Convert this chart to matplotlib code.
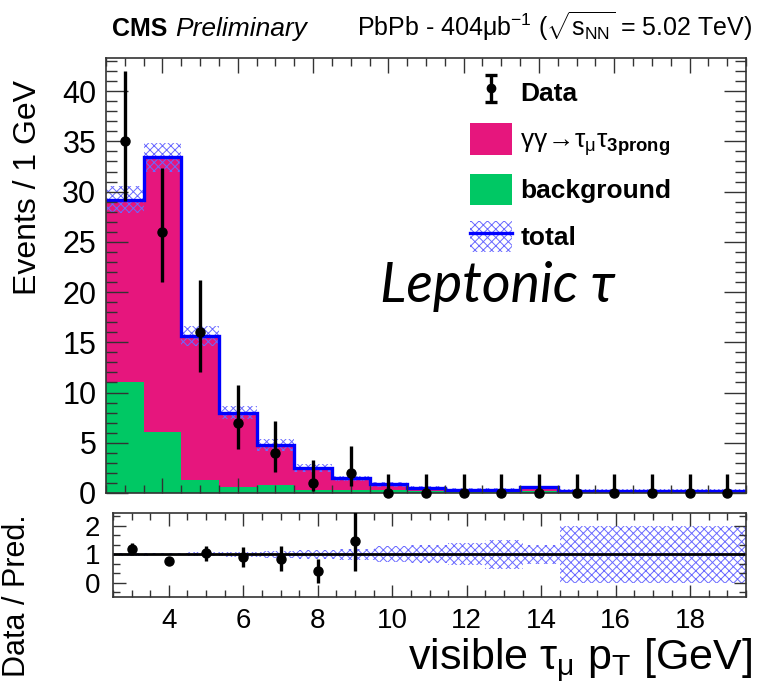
import matplotlib
matplotlib.use('Agg')
import matplotlib.pyplot as plt
import numpy as np
from matplotlib.patches import Patch
from matplotlib.lines import Line2D
from matplotlib.ticker import MultipleLocator

plt.rcParams['font.family'] = ['Liberation Sans', 'DejaVu Sans']
plt.rcParams['mathtext.fontset'] = 'custom'
plt.rcParams['mathtext.rm'] = 'Liberation Sans'
plt.rcParams['mathtext.it'] = 'Liberation Sans:italic'
plt.rcParams['mathtext.bf'] = 'Liberation Sans:bold'
plt.rcParams['hatch.linewidth'] = 0.7

# binning: 1 GeV bins from 2.5 to 19.5
bin_edges = np.arange(2.5, 20.0, 1.0)
bin_centres = [3, 4, 5, 6, 7, 8, 9, 10, 11, 12, 13, 14, 15, 16, 17, 18, 19]

background = [11.0, 6.1, 1.3, 0.6, 0.8, 0.3, 0.3, 0.25, 0.22, 0.15, 0.15, 0.15, 0.1, 0.1, 0.1, 0.1, 0.1]
signal = [18.2, 27.3, 14.3, 7.4, 4.0, 2.2, 1.15, 0.62, 0.31, 0.18, 0.18, 0.4, 0.1, 0.1, 0.1, 0.1, 0.1]
rel_unc = [0.045, 0.042, 0.065, 0.085, 0.12, 0.16, 0.19, 0.28, 0.32, 0.39, 0.5, 0.33, 1.0, 1.0, 1.0, 1.0, 1.0]

data = [35, 26, 16, 7, 4, 1, 2, 0, 0, 0, 0, 0, 0, 0, 0, 0, 0]
data_lo = [29.1, 21.0, 12.0, 4.4, 2.1, 0.17, 0.7, 0, 0, 0, 0, 0, 0, 0, 0, 0, 0]
data_hi = [42.0, 32.4, 21.2, 10.8, 7.2, 3.3, 4.7, 1.85, 1.85, 1.85, 1.85, 1.85, 1.85, 1.85, 1.85, 1.85, 1.85]

ratio_x = [3, 4, 5, 6, 7, 8, 9]
ratio = [1.19, 0.77, 1.03, 0.89, 0.85, 0.41, 1.45]
ratio_err = [0.21, 0.15, 0.27, 0.35, 0.43, 0.42, 1.02]

c_sig = '#E6167D'
c_bkg = '#00C864'
c_tot = '#0000FF'
c_hatch = '#6A6AFF'

bkg = np.array(background)
sig = np.array(signal)
total = bkg + sig
unc = np.array(rel_unc) * total
d = np.array(data, dtype=float)

fig = plt.figure(figsize=(7.58, 6.86), dpi=100)
ax = fig.add_axes([106/758, 1-493/686, 640/758, 435/686])
ax2 = fig.add_axes([113/758, 1-597/686, 633/758, 84/686])

# main panel
ax.stairs(bkg, bin_edges, fill=True, color=c_bkg, lw=0)
ax.stairs(total, bin_edges, baseline=bkg, fill=True, color=c_sig, lw=0)
ax.stairs(total + unc, bin_edges, baseline=total - unc, fill=True, facecolor='none',
          edgecolor=c_hatch, hatch='xxxx', lw=0)
ax.stairs(total, bin_edges, baseline=None, color=c_tot, lw=2.4)
ax.errorbar(bin_centres, d, yerr=[d - np.array(data_lo), np.array(data_hi) - d],
            fmt='o', color='k', ms=6.5, elinewidth=2.4, capsize=0, clip_on=False, zorder=5)

ax.set_xlim(2.5, 19.5)
ax.set_ylim(0, 43.3)
ax.xaxis.set_major_locator(MultipleLocator(2))
ax.xaxis.set_minor_locator(MultipleLocator(0.5))
ax.yaxis.set_major_locator(MultipleLocator(5))
ax.yaxis.set_minor_locator(MultipleLocator(1))
ax.tick_params(which='both', direction='in', top=True, right=True, labelbottom=False,
               labelsize=22, pad=7, width=1.0, color='#333333')
ax.tick_params(axis='y', which='major', length=16)
ax.tick_params(axis='y', which='minor', length=8)
ax.tick_params(axis='x', which='major', length=11)
ax.tick_params(axis='x', which='minor', length=6)
for s in ax.spines.values():
    s.set_linewidth(1.2)
    s.set_color('#333333')
ax.set_ylabel('Events / 1 GeV', fontsize=23)
ax.yaxis.set_label_coords(-0.098, 0.703)

# legend
leg_data = ax.errorbar([np.nan], [np.nan], yerr=[1], fmt='o', color='k', ms=6,
                       elinewidth=2.4, capsize=4, capthick=2.4)
h_sig = Patch(facecolor=c_sig, edgecolor='none')
h_bkg = Patch(facecolor=c_bkg, edgecolor='none')
h_tot = (Patch(facecolor='none', edgecolor=c_hatch, hatch='xxxx', lw=0),
         Line2D([], [], color=c_tot, lw=2.4))
leg = ax.legend([leg_data, h_sig, h_bkg, h_tot],
                ['Data', r'$\mathregular{\gamma\gamma\!\rightarrow\!\tau_{\mu}\tau_{\mathbf{3prong}}}$',
                 'background', 'total'],
                loc='upper left', bbox_to_anchor=(0.569, 0.958), frameon=False,
                prop={'size': 19, 'weight': 'bold'}, handlelength=1.6, handleheight=1.45,
                labelspacing=0.6, handletextpad=0.3, borderaxespad=0, borderpad=0)
leg.get_texts()[1].set_fontweight('normal')
leg.get_texts()[1].set_fontsize(19)

ax.text(0.611, 0.475, 'Leptonic \u03c4', transform=ax.transAxes, fontsize=40,
        style='italic', family=['Lato', 'DejaVu Sans'], ha='center', va='center')

# header
fig.text(112/758, 1-36/686, 'CMS', fontsize=18, fontweight='bold', va='baseline')
fig.text(175/758, 1-36/686, 'Preliminary', fontsize=19, style='italic', va='baseline')
fig.text(752/758, 1-36/686,
         r'PbPb - 404$\mathregular{\mu b^{-1}}$ ($\mathregular{\sqrt{s_{NN}}}$ = 5.02 TeV)',
         fontsize=18, ha='right', va='baseline')

# ratio panel
ax2.stairs(1 + np.array(rel_unc), bin_edges, baseline=1 - np.array(rel_unc), fill=True,
           facecolor='none', edgecolor=c_hatch, hatch='xxxx', lw=0)
ax2.axhline(1.0, color='k', lw=2.0)
ax2.errorbar(ratio_x, ratio, yerr=ratio_err, fmt='o', color='k', ms=6.5, elinewidth=2.4,
             capsize=0, zorder=5)
ax2.set_xlim(2.5, 19.5)
ax2.set_ylim(-0.5, 2.45)
ax2.xaxis.set_major_locator(MultipleLocator(2))
ax2.xaxis.set_minor_locator(MultipleLocator(0.5))
ax2.yaxis.set_major_locator(MultipleLocator(1))
ax2.yaxis.set_minor_locator(MultipleLocator(1/3))
ax2.tick_params(which='both', direction='in', top=True, right=True, labelsize=20,
                width=1.0, color='#333333')
ax2.tick_params(axis='x', pad=8)
ax2.tick_params(axis='y', pad=9)
ax2.tick_params(which='major', length=9)
ax2.tick_params(which='minor', length=5)
for s in ax2.spines.values():
    s.set_linewidth(1.2)
    s.set_color('#333333')
ax2.set_ylabel('Data / Pred.', fontsize=22)
ax2.yaxis.set_label_coords(-0.128, 0.02)
ax2.set_xlabel(r'visible $\mathregular{\tau_{\mu}}$ $\mathregular{p_{T}}$ [GeV]', fontsize=31)
ax2.xaxis.label.set_ha('right')
ax2.xaxis.label.set_va('top')
ax2.xaxis.set_label_coords(1.01, -0.47)

fig.savefig('out.png', dpi=100)
